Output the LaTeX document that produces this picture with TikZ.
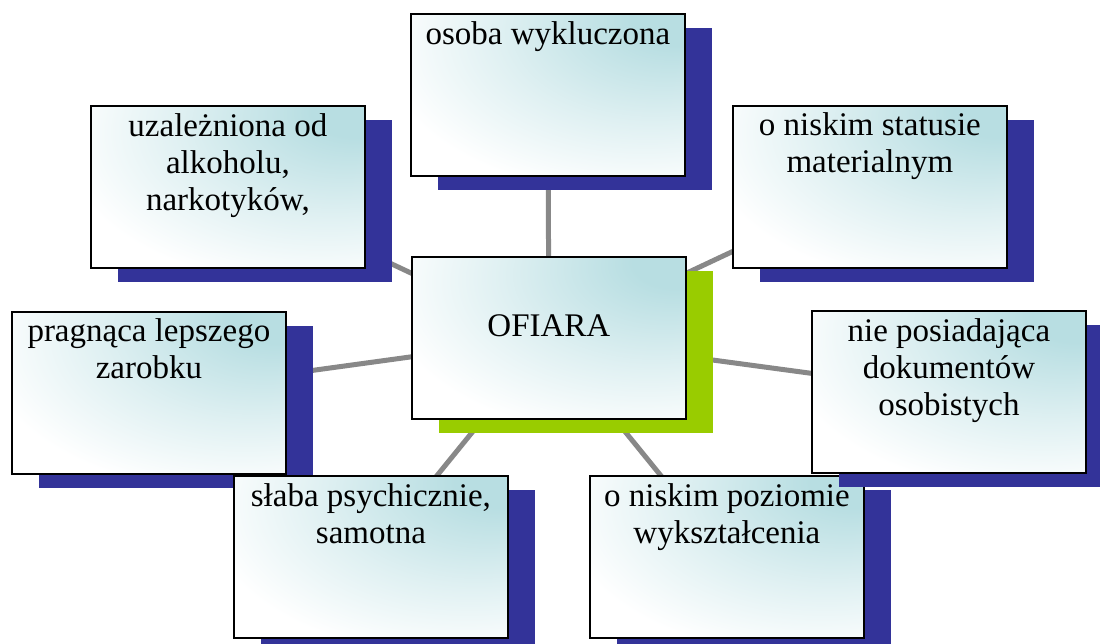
\documentclass[tikz,border=0pt]{standalone}
\usepackage{fontspec}
\setmainfont{Liberation Serif}
\usetikzlibrary{shadows}
\definecolor{shadowblue}{RGB}{51,51,153}
\definecolor{shadowgreen}{RGB}{153,204,0}
\definecolor{boxblue}{RGB}{184,222,226}
\definecolor{linkgray}{RGB}{136,136,136}
\pgfdeclareradialshading{boxshade}{\pgfpoint{25bp}{25bp}}{color(0bp)=(boxblue); color(8bp)=(boxblue); color(28bp)=(boxblue!45!white); color(46bp)=(white); color(120bp)=(white)}
\pgfdeclarelayer{background}
\pgfsetlayers{background,main}
\newcommand{\boxtext}[2]{\parbox[c][162pt][t]{270pt}{\centering\rule{0pt}{#1pt}#2}}
\begin{document}
\begin{tikzpicture}[x=1pt,y=-1pt,
  vbox/.style={draw=black, line width=1.8pt, shade, shading=boxshade, inner sep=0pt,
    minimum width=274pt, minimum height=162pt, anchor=north west,
    font=\fontsize{33}{37}\selectfont,
    drop shadow={shadow xshift=27pt, shadow yshift=-14pt, opacity=1, fill=shadowblue, shadow scale=1}},
  centerbox/.style={vbox,
    drop shadow={shadow xshift=27pt, shadow yshift=-14pt, opacity=1, fill=shadowgreen, shadow scale=1}},
  link/.style={draw=linkgray, line width=5pt}]
\useasboundingbox (0,0) rectangle (1100,643);
\clip (0,0) rectangle (1100,643);
\node[vbox] (wyk) at (410,13) {\boxtext{31}{osoba wykluczona}};
\node[vbox] (uzal) at (90,105) {\boxtext{31}{uzależniona od\\alkoholu,\\narkotyków,}};
\node[vbox] (stat) at (732,105) {\boxtext{30}{o niskim statusie\\materialnym}};
\node[centerbox] (ofiara) at (411,256) {\boxtext{80}{OFIARA}};
\node[vbox] (zar) at (11,311) {\boxtext{30}{pragnąca lepszego\\zarobku}};
\node[vbox] (slaba) at (233,475) {\boxtext{31}{słaba psychicznie,\\samotna}};
\node[vbox] (wyks) at (589,475) {\boxtext{31}{o niskim poziomie\\wykształcenia}};
\node[vbox] (dok) at (811,310) {\boxtext{31}{nie posiadająca\\dokumentów\\osobistych}};
\begin{pgfonlayer}{background}
\fill[white] (0,0) rectangle (1100,643);
\foreach \n in {wyk,uzal,stat,zar,slaba,wyks,dok}
  \draw[link] (ofiara.center) -- (\n.center);
\end{pgfonlayer}
\end{tikzpicture}
\end{document}
